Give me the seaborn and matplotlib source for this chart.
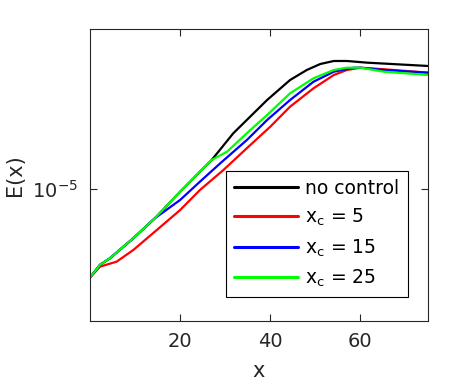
import numpy as np
import pandas as pd
import matplotlib
matplotlib.use("Agg")
import matplotlib.pyplot as plt
import seaborn as sns
from matplotlib.ticker import FixedLocator, NullLocator

# Data (E in units of 1e-6)
x_nc = [0, 2.2, 4.4, 9.6, 14.4, 20, 24.4, 27, 31.8, 39.3, 44.4, 48.1, 51.1, 54.1, 57, 61.5, 75]
e_nc = [4.42, 4.97, 5.28, 6.35, 7.64, 9.75, 11.73, 13.06, 16.71, 22.70, 27.29, 29.92, 31.62, 32.51, 32.51, 32.01, 31.05]

x_5 = [0, 2.2, 5.9, 9.6, 14.8, 20, 24.4, 29.6, 34.8, 40, 44.4, 49.6, 54.1, 57, 60, 65.2, 75]
e_5 = [4.42, 4.89, 5.12, 5.70, 6.85, 8.24, 9.91, 11.91, 14.56, 17.75, 21.35, 25.28, 28.58, 29.92, 30.56, 30.12, 29.19]

x_15 = [0, 2.2, 4.4, 9.6, 14.4, 20, 24.4, 28.9, 34.8, 39.3, 44.4, 49.6, 54.1, 58.5, 60, 65.2, 75]
e_15 = [4.42, 4.97, 5.28, 6.35, 7.64, 9.04, 10.70, 12.67, 15.70, 18.88, 22.70, 26.86, 29.46, 30.56, 30.56, 29.92, 29.19]

x_25 = [0, 2.2, 4.4, 9.6, 14.4, 20, 24.4, 27, 30.4, 34.8, 39.3, 44.4, 49.6, 54.1, 57, 60, 65.2, 75]
e_25 = [4.42, 4.97, 5.28, 6.35, 7.64, 9.75, 11.73, 13.06, 14.10, 16.71, 19.77, 24.15, 27.73, 29.92, 30.56, 30.56, 29.46, 28.58]

labels = ["no control", r"x$_\mathregular{c}$ = 5", r"x$_\mathregular{c}$ = 15", r"x$_\mathregular{c}$ = 25"]
colors = ["#000000", "#ff0000", "#0000ff", "#00ff00"]
xticks = [20, 40, 60]
yticks = [1e-5]
yticklabels = [r"$10^{-5}$"]

frames = []
for lab, xs, es in zip(labels, [x_nc, x_5, x_15, x_25], [e_nc, e_5, e_15, e_25]):
    frames.append(pd.DataFrame({"x": xs, "E": np.array(es) * 1e-6, "case": lab}))
df = pd.concat(frames, ignore_index=True)

sns.set_style("ticks")
plt.rcParams["font.family"] = ["DejaVu Sans"]
plt.rcParams["mathtext.fontset"] = "dejavusans"

fig = plt.figure(figsize=(4.72, 3.84), dpi=100)
ax = fig.add_axes([0.1907, 0.1641, 0.9068 - 0.1907, 0.9245 - 0.1641])

sns.lineplot(data=df, x="x", y="E", hue="case", palette=colors, hue_order=labels,
             linewidth=1.6, ax=ax, sort=False, estimator=None)

ax.set_yscale("log")
ax.set_xlim(0, 75)
ax.set_ylim(2.965e-6, 43.65e-6)
ax.xaxis.set_major_locator(FixedLocator(xticks))
ax.xaxis.set_minor_locator(NullLocator())
ax.yaxis.set_major_locator(FixedLocator(yticks))
ax.yaxis.set_minor_locator(NullLocator())
ax.set_yticklabels(yticklabels)

txtc = "#262626"
ax.tick_params(axis="both", which="both", direction="in", length=5, width=0.8,
               top=True, right=True, labelsize=14, colors=txtc, pad=8)
ax.tick_params(axis="y", labelsize=14, pad=9)
for s in ax.spines.values():
    s.set_color(txtc)
    s.set_linewidth(0.8)

ax.set_xlabel("x", fontsize=15, color=txtc, va="center")
ax.set_ylabel("E(x)", fontsize=15, color=txtc, va="center")
ax.xaxis.set_label_coords(0.5, -0.171)
ax.yaxis.set_label_coords(-0.222, 0.5)

leg = ax.legend(loc="lower left", bbox_to_anchor=(0.4015, 0.0832, 0.9417 - 0.4015, 0.5079 - 0.0832),
                mode="expand", fontsize=13.5, handlelength=3.45, handletextpad=0.37,
                frameon=True, fancybox=False, framealpha=1, edgecolor="black",
                borderaxespad=0, labelspacing=0.48, borderpad=0.42)
leg.get_frame().set_linewidth(0.8)
for line in leg.get_lines():
    line.set_linewidth(2.2)
for t in leg.get_texts():
    t.set_color("black")

fig.savefig("out.png", dpi=100)
